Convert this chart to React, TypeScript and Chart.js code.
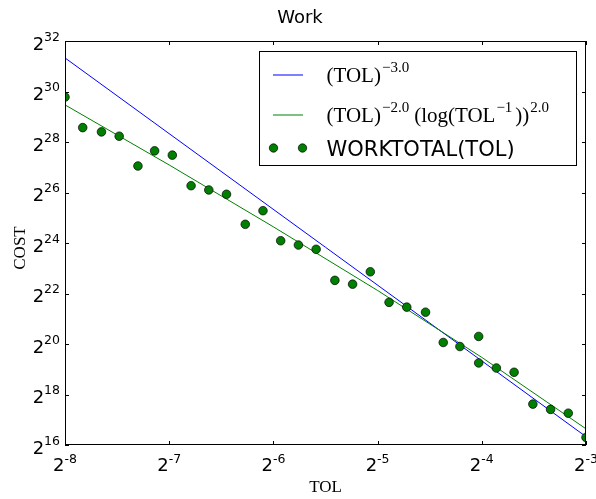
import { useEffect, useRef } from 'react';
import { Chart, registerables } from 'chart.js';

Chart.register(...registerables);

// log2(TOL) of each sample
const TOL_EXP = [
  -8.0, -7.83, -7.65, -7.48, -7.3, -7.14, -6.97, -6.79, -6.62, -6.45,
  -6.27, -6.1, -5.93, -5.76, -5.59, -5.41, -5.24, -5.07, -4.89, -4.72,
  -4.54, -4.37, -4.21, -4.03, -4.03, -3.86, -3.69, -3.51, -3.34, -3.17, -3.0,
];
// log2(WORKTOTAL) of each sample
const WORK_EXP = [
  29.78, 28.57, 28.4, 28.23, 27.05, 27.65, 27.48, 26.27, 26.1, 25.93,
  24.74, 25.28, 24.09, 23.92, 23.75, 22.52, 22.37, 22.86, 21.65, 21.46,
  21.26, 20.06, 19.9, 20.3, 19.25, 19.05, 18.88, 17.62, 17.41, 17.26, 16.3,
];
// reference rate (TOL)^-3
const REF3_X = [-8, -3];
const REF3_Y = [31.33, 16.33];
// reference rate (TOL)^-2 (log(TOL^-1))^2
const REF2_X = [-8, -7, -6, -5, -4, -3];
const REF2_Y = [29.47, 27.09, 24.64, 22.12, 19.47, 16.64];

const X_TICKS = [-8, -7, -6, -5, -4, -3];
const Y_TICKS = [16, 18, 20, 22, 24, 26, 28, 30, 32];

const TITLE = 'Work';
const X_LABEL = 'TOL';
const Y_LABEL = 'COST';
const LEGEND_3 = 'WORKTOTAL(TOL)';

const SANS = '"DejaVu Sans"';
const SERIF = '"Liberation Serif"';

function drawSegments(
  ctx: CanvasRenderingContext2D,
  x: number,
  baseline: number,
  segs: { t: string; sup?: boolean; gap?: number }[]
) {
  let cx = x;
  for (const s of segs) {
    if (s.gap) cx += s.gap;
    if (s.sup) {
      ctx.font = `15px ${SERIF}`;
      ctx.fillText(s.t, cx, baseline - 10);
    } else {
      ctx.font = `21px ${SERIF}`;
      ctx.fillText(s.t, cx, baseline);
    }
    cx += ctx.measureText(s.t).width;
  }
}

const decorPlugin = {
  id: 'decor',
  afterDraw(chart: any) {
    const ctx: CanvasRenderingContext2D = chart.ctx;
    const { left, right, top, bottom } = chart.chartArea;
    const xs = chart.scales.x;
    const ys = chart.scales.y;
    ctx.save();
    ctx.fillStyle = '#000';
    ctx.strokeStyle = '#000';
    ctx.lineWidth = 1;
    ctx.textAlign = 'left';
    ctx.textBaseline = 'alphabetic';

    // frame
    ctx.strokeRect(Math.round(left) + 0.5, Math.round(top) + 0.5, Math.round(right - left) - 1, Math.round(bottom - top) - 1);

    // inward ticks
    const TL = 4;
    ctx.beginPath();
    for (const v of X_TICKS) {
      const px = Math.round(xs.getPixelForValue(v)) + 0.5;
      ctx.moveTo(px, bottom);
      ctx.lineTo(px, bottom - TL);
      ctx.moveTo(px, top);
      ctx.lineTo(px, top + TL);
    }
    for (const v of Y_TICKS) {
      const py = Math.round(ys.getPixelForValue(v)) + 0.5;
      ctx.moveTo(left, py);
      ctx.lineTo(left + TL, py);
      ctx.moveTo(right, py);
      ctx.lineTo(right - TL, py);
    }
    ctx.stroke();

    // y tick labels 2^n
    for (const v of Y_TICKS) {
      const py = ys.getPixelForValue(v);
      const e = String(v);
      ctx.font = `12.5px ${SANS}`;
      const we = ctx.measureText(e).width;
      ctx.font = `18px ${SANS}`;
      const w2 = ctx.measureText('2').width;
      const r = left - 5;
      ctx.fillText('2', r - we - w2, py + 8.5);
      ctx.font = `12.5px ${SANS}`;
      ctx.fillText(e, r - we, py - 0.5);
    }
    // x tick labels 2^n
    for (const v of X_TICKS) {
      const px = xs.getPixelForValue(v);
      const e = String(v);
      ctx.font = `12.5px ${SANS}`;
      const we = ctx.measureText(e).width;
      ctx.font = `18px ${SANS}`;
      const w2 = ctx.measureText('2').width;
      const s = px - (we + w2) / 2;
      ctx.fillText('2', s, bottom + 25.5);
      ctx.font = `12.5px ${SANS}`;
      ctx.fillText(e, s + w2, bottom + 17.5);
    }

    // title
    ctx.font = `18px ${SANS}`;
    ctx.textAlign = 'center';
    ctx.fillText(TITLE, 300, 23);
    // axis labels
    ctx.font = `17px ${SERIF}`;
    ctx.fillText(X_LABEL, (left + right) / 2, 491.5);
    ctx.save();
    ctx.translate(25, (top + bottom) / 2 + 5);
    ctx.rotate(-Math.PI / 2);
    ctx.fillText(Y_LABEL, 0, 0);
    ctx.restore();
    ctx.textAlign = 'left';

    // legend
    const bx = 259.5, by = 51.5, bw = 317, bh = 114;
    ctx.fillStyle = '#fff';
    ctx.fillRect(bx, by, bw, bh);
    ctx.strokeStyle = '#000';
    ctx.strokeRect(bx, by, bw, bh);
    ctx.lineWidth = 1;
    ctx.strokeStyle = '#0000ff';
    ctx.beginPath();
    ctx.moveTo(273, 75);
    ctx.lineTo(303, 75);
    ctx.stroke();
    ctx.strokeStyle = '#008000';
    ctx.beginPath();
    ctx.moveTo(273, 115);
    ctx.lineTo(303, 115);
    ctx.stroke();
    for (const dx of [273.5, 302.5]) {
      ctx.beginPath();
      ctx.arc(dx, 148, 4.2, 0, Math.PI * 2);
      ctx.fillStyle = '#008000';
      ctx.fill();
      ctx.strokeStyle = '#000';
      ctx.lineWidth = 0.7;
      ctx.stroke();
    }
    ctx.fillStyle = '#000';
    drawSegments(ctx, 326.5, 81.5, [{ t: '(TOL)' }, { t: '\u22123.0', sup: true, gap: 1 }]);
    drawSegments(ctx, 326.5, 121.5, [
      { t: '(TOL)' },
      { t: '\u22122.0', sup: true, gap: 1 },
      { t: '(log(TOL', gap: 5 },
      { t: '\u22121', sup: true, gap: 1 },
      { t: '))', gap: 3 },
      { t: '2.0', sup: true, gap: 1 },
    ]);
    ctx.font = `21px ${SANS}`;
    ctx.fillText(LEGEND_3, 326.5, 156);
    ctx.restore();
  },
};

export default function App() {
  const ref = useRef<HTMLCanvasElement | null>(null);
  useEffect(() => {
    document.body.style.margin = '0';
    const canvas = ref.current;
    if (!canvas) return;
    const pts = TOL_EXP.map((x, i) => ({ x, y: WORK_EXP[i] }));
    const ref3 = REF3_X.map((x, i) => ({ x, y: REF3_Y[i] }));
    const ref2 = REF2_X.map((x, i) => ({ x, y: REF2_Y[i] }));
    const chart = new Chart(canvas, {
      type: 'scatter',
      data: {
        datasets: [
          {
            label: LEGEND_3,
            data: pts,
            showLine: false,
            pointRadius: 4.3,
            pointBackgroundColor: '#008000',
            pointBorderColor: '#000',
            pointBorderWidth: 0.7,
            clip: 0,
          } as any,
          {
            label: '(TOL)^-2.0 (log(TOL^-1))^2.0',
            data: ref2,
            showLine: true,
            borderColor: '#008000',
            borderWidth: 1,
            pointRadius: 0,
            tension: 0,
            clip: 0,
          } as any,
          {
            label: '(TOL)^-3.0',
            data: ref3,
            showLine: true,
            borderColor: '#0000ff',
            borderWidth: 1,
            pointRadius: 0,
            tension: 0,
            clip: 0,
          } as any,
        ],
      },
      options: {
        animation: false,
        responsive: false,
        events: [],
        layout: { padding: { left: 65, right: 10, top: 41, bottom: 54 } },
        plugins: { legend: { display: false }, tooltip: { enabled: false }, title: { display: false } },
        scales: {
          x: { type: 'linear', display: false, min: -8, max: -3 },
          y: { type: 'linear', display: false, min: 16, max: 32 },
        },
      },
      plugins: [decorPlugin],
    });
    return () => chart.destroy();
  }, []);
  return (
    <div style={{ width: 596, height: 499 }}>
      <canvas ref={ref} width={596} height={499} style={{ display: 'block' }} />
    </div>
  );
}
